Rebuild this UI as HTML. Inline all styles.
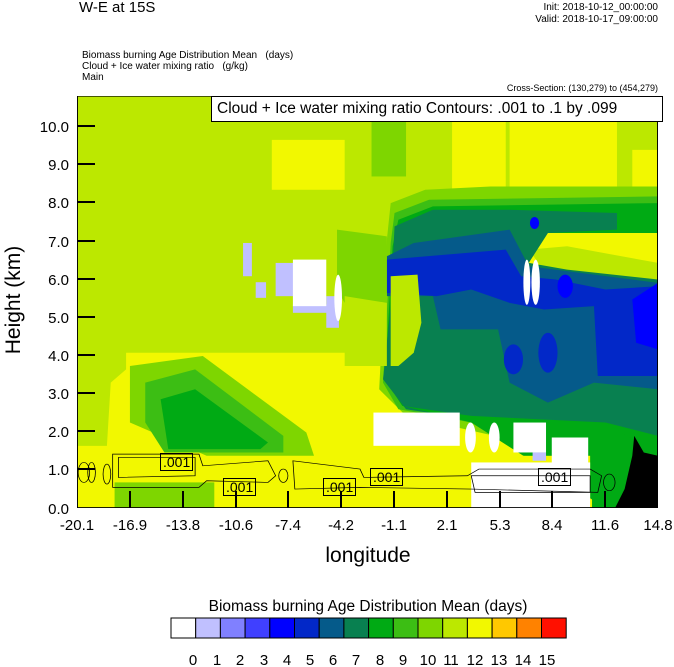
<!DOCTYPE html>
<html><head><style>
body{margin:0;width:674px;height:667px;background:#fff;position:relative;font-family:"Liberation Sans",sans-serif;overflow:hidden}
.t{position:absolute;white-space:nowrap;color:#000}
</style></head><body>
<div class="t" style="left:79px;top:-1px;font-size:15px">W-E at 15S</div>
<div class="t" style="right:16px;top:2px;font-size:10px;text-align:right;line-height:12px">Init: 2018-10-12_00:00:00<br>Valid: 2018-10-17_09:00:00</div>
<div class="t" style="left:82px;top:50px;font-size:10px;line-height:11px">Biomass burning Age Distribution Mean &nbsp; (days)<br>Cloud + Ice water mixing ratio &nbsp; (g/kg)<br>Main</div>
<div class="t" style="right:16px;top:83px;font-size:9px">Cross-Section: (130,279) to (454,279)</div>

<svg style="position:absolute;left:77px;top:96px" width="581" height="412" viewBox="22 18 1515 1239" preserveAspectRatio="none">
<rect x="0" y="0" width="1600" height="1300" fill="#bce800"/>
<!-- yellow top -->
<rect x="530" y="150" width="190" height="150" fill="#f2f800"/>
<rect x="1000" y="90" width="140" height="210" fill="#f2f800"/>
<rect x="1150" y="90" width="280" height="210" fill="#f2f800"/>
<rect x="1470" y="180" width="67" height="150" fill="#f2f800"/>
<rect x="790" y="90" width="90" height="170" fill="#7ed600"/>
<!-- yellow bottom -->
<polygon points="150,790 800,790 1050,960 1400,1257 22,1257 22,1070 100,1070 110,880 150,840" fill="#f2f800"/>
<polygon points="160,830 350,800 620,1030 640,1100 360,1100 160,1000" fill="#7ed600"/>
<polygon points="200,880 330,840 560,1040 560,1090 250,1090 200,1000" fill="#3cbe14"/>
<polygon points="240,930 330,900 520,1060 500,1080 260,1080" fill="#00aa14"/>
<rect x="120" y="1180" width="260" height="77" fill="#7ed600"/>
<!-- dark region layers -->
<polygon points="840,340 930,300 1100,290 1537,290 1537,1257 1400,1257 1380,1110 880,980 810,900 830,450" fill="#7ed600"/>
<polygon points="850,370 940,330 1537,320 1537,1257 1420,1257 1390,1120 1250,1100 1050,1000 860,960 820,880 840,460" fill="#3cbe14"/>
<polygon points="860,390 950,350 1537,340 1537,1257 1430,1257 1400,1140 1230,1080 1050,990 870,950 825,870 845,470" fill="#00aa14"/>
<rect x="1200" y="430" width="337" height="130" fill="#f2f800"/>
<polygon points="1200,480 1300,470 1537,520 1537,570 1380,580 1250,560" fill="#bce800"/>
<polygon points="850,410 950,360 1150,360 1430,370 1430,420 1250,430 1200,520 1300,540 1537,570 1537,1040 1400,1000 1300,1040 1050,990 880,960 820,870 840,650" fill="#088050"/>
<polygon points="830,500 900,460 1150,420 1200,530 1537,580 1537,900 1370,880 1250,940 1150,880 1120,720 970,720 950,620 830,620" fill="#055a8a"/>
<polygon points="830,510 1140,480 1180,560 1270,570 1400,600 1537,590 1537,860 1380,860 1370,650 1240,660 1150,640 1050,600 960,620 830,610" fill="#0228c8"/>
<ellipse cx="1160" cy="810" rx="25" ry="45" fill="#0228c8"/>
<ellipse cx="1250" cy="790" rx="25" ry="60" fill="#0228c8"/>
<polygon points="1470,630 1537,580 1537,780 1480,760" fill="#0000ff"/>
<ellipse cx="1295" cy="590" rx="20" ry="35" fill="#0000ff"/>
<ellipse cx="1215" cy="400" rx="12" ry="18" fill="#0000ff"/>
<polygon points="840,560 910,555 920,700 900,790 860,830 840,830" fill="#bce800"/>
<polygon points="700,420 830,440 830,640 720,640 700,600" fill="#7ed600"/>
<polygon points="720,620 830,640 830,830 720,830" fill="#bce800"/>
<!-- green tongue below dark -->
<polygon points="870,950 1050,1000 1400,1257 1537,1257 1537,1100 1400,1000 1050,980" fill="#00aa14"/>
<rect x="1050" y="1100" width="310" height="157" fill="#f2f800"/>
<!-- whites / lavender -->
<rect x="455" y="460" width="23" height="100" fill="#c0c0ff"/>
<rect x="488" y="578" width="27" height="47" fill="#c0c0ff"/>
<rect x="540" y="520" width="50" height="100" fill="#c0c0ff"/>
<rect x="585" y="645" width="115" height="25" fill="#c0c0ff"/>
<rect x="672" y="620" width="33" height="95" fill="#c0c0ff"/>
<rect x="585" y="510" width="87" height="140" fill="#fff"/>
<ellipse cx="703" cy="625" rx="10" ry="70" fill="#fff"/>
<ellipse cx="1195" cy="578" rx="9" ry="68" fill="#fff"/>
<ellipse cx="1218" cy="578" rx="11" ry="68" fill="#fff"/>
<rect x="795" y="970" width="225" height="100" fill="#fff"/>
<ellipse cx="1048" cy="1045" rx="14" ry="45" fill="#fff"/>
<ellipse cx="1110" cy="1045" rx="14" ry="45" fill="#fff"/>
<rect x="1160" y="1000" width="85" height="90" fill="#fff"/>
<rect x="1260" y="1045" width="95" height="212" fill="#fff"/>
<rect x="1050" y="1120" width="310" height="137" fill="#fff"/>
<rect x="1210" y="1090" width="35" height="25" fill="#c0c0ff"/>
<rect x="1365" y="1140" width="40" height="117" fill="#00aa14"/>
<polygon points="1475,1040 1500,1090 1537,1100 1537,1257 1425,1257 1450,1200 1470,1100" fill="#000"/>
<!-- contours -->
<g fill="none" stroke="#000" stroke-width="2">
<path d="M115,1095 L340,1095 L350,1130 L520,1115 L540,1160 L520,1180 L360,1175 L340,1195 L115,1195 Z"/>
<path d="M130,1105 L330,1105 L330,1160 L130,1165 Z"/>
<path d="M585,1115 L760,1140 L770,1165 L1040,1160 L1070,1140 L1360,1140 L1390,1160 L1380,1210 L1050,1200 L760,1195 L590,1200 Z"/>
<path d="M1050,1160 L1360,1160 L1360,1210 L1060,1210 Z"/>
<ellipse cx="40" cy="1150" rx="15" ry="30"/><ellipse cx="60" cy="1150" rx="10" ry="30"/><ellipse cx="100" cy="1155" rx="10" ry="30"/>
<ellipse cx="560" cy="1160" rx="12" ry="20"/><ellipse cx="1410" cy="1180" rx="15" ry="25"/>
</g>
<line x1="22" y1="0" x2="22" y2="1257" stroke="#000" stroke-width="5"/>
<line x1="1537" y1="0" x2="1537" y2="1257" stroke="#000" stroke-width="5"/>
<line x1="0" y1="18" x2="1600" y2="18" stroke="#000" stroke-width="4"/>
<line x1="0" y1="1257" x2="1600" y2="1257" stroke="#000" stroke-width="5"/>
</svg>

<!-- contour labels -->
<div class="t" style="left:160px;top:453px;font-size:14px;border:1px solid #000;padding:0 2px;line-height:16px">.001</div>
<div class="t" style="left:223px;top:478px;font-size:14px;border:1px solid #000;padding:0 2px;line-height:16px">.001</div>
<div class="t" style="left:323px;top:478px;font-size:14px;border:1px solid #000;padding:0 2px;line-height:16px">.001</div>
<div class="t" style="left:370px;top:468px;font-size:14px;border:1px solid #000;padding:0 2px;line-height:16px">.001</div>
<div class="t" style="left:538px;top:468px;font-size:14px;border:1px solid #000;padding:0 2px;line-height:16px">.001</div>

<!-- legend box -->
<div class="t" style="left:211px;top:96px;width:445px;height:24px;background:#fff;border:1px solid #000;font-size:15.5px;line-height:24px;padding-left:5px">Cloud + Ice water mixing ratio Contours: .001 to .1 by .099</div>

<!-- ticks -->
<svg style="position:absolute;left:0;top:0" width="674" height="667">
<g stroke="#000" stroke-width="2">
<line x1="77" y1="126" x2="95" y2="126"/><line x1="77" y1="164" x2="95" y2="164"/><line x1="77" y1="202" x2="95" y2="202"/><line x1="77" y1="241" x2="95" y2="241"/><line x1="77" y1="279" x2="95" y2="279"/><line x1="77" y1="317" x2="95" y2="317"/><line x1="77" y1="355" x2="95" y2="355"/><line x1="77" y1="393" x2="95" y2="393"/><line x1="77" y1="431" x2="95" y2="431"/><line x1="77" y1="469" x2="95" y2="469"/>
<line x1="130" y1="508" x2="130" y2="491"/><line x1="183" y1="508" x2="183" y2="491"/><line x1="236" y1="508" x2="236" y2="491"/><line x1="288" y1="508" x2="288" y2="491"/><line x1="341" y1="508" x2="341" y2="491"/><line x1="394" y1="508" x2="394" y2="491"/><line x1="447" y1="508" x2="447" y2="491"/><line x1="500" y1="508" x2="500" y2="491"/><line x1="552" y1="508" x2="552" y2="491"/><line x1="605" y1="508" x2="605" y2="491"/>
</g>
<g font-family="Liberation Sans" font-size="15" text-anchor="end">
<text x="69" y="132">10.0</text><text x="69" y="170">9.0</text><text x="69" y="208">8.0</text><text x="69" y="247">7.0</text><text x="69" y="285">6.0</text><text x="69" y="323">5.0</text><text x="69" y="361">4.0</text><text x="69" y="399">3.0</text><text x="69" y="437">2.0</text><text x="69" y="475">1.0</text><text x="69" y="514">0.0</text>
</g>
<g font-family="Liberation Sans" font-size="15" text-anchor="middle">
<text x="77" y="530">-20.1</text><text x="130" y="530">-16.9</text><text x="183" y="530">-13.8</text><text x="236" y="530">-10.6</text><text x="288" y="530">-7.4</text><text x="341" y="530">-4.2</text><text x="394" y="530">-1.1</text><text x="447" y="530">2.1</text><text x="500" y="530">5.3</text><text x="552" y="530">8.4</text><text x="605" y="530">11.6</text><text x="658" y="530">14.8</text>
</g>
<text x="368" y="562" font-family="Liberation Sans" font-size="21" text-anchor="middle">longitude</text>
<text transform="translate(20,300) rotate(-90)" font-family="Liberation Sans" font-size="21" text-anchor="middle">Height (km)</text>
<text x="368" y="611" font-family="Liberation Sans" font-size="15.5" text-anchor="middle">Biomass burning Age Distribution Mean  (days)</text>
<g stroke="#000" stroke-width="1">
<rect x="171" y="618" width="24.7" height="20" fill="#fff"/>
<rect x="195.7" y="618" width="24.7" height="20" fill="#c0c0ff"/>
<rect x="220.4" y="618" width="24.7" height="20" fill="#8080ff"/>
<rect x="245.1" y="618" width="24.7" height="20" fill="#4040ff"/>
<rect x="269.8" y="618" width="24.7" height="20" fill="#0000ff"/>
<rect x="294.5" y="618" width="24.7" height="20" fill="#0228c8"/>
<rect x="319.2" y="618" width="24.7" height="20" fill="#055a8a"/>
<rect x="343.9" y="618" width="24.7" height="20" fill="#088050"/>
<rect x="368.6" y="618" width="24.7" height="20" fill="#00aa14"/>
<rect x="393.3" y="618" width="24.7" height="20" fill="#3cbe14"/>
<rect x="418" y="618" width="24.7" height="20" fill="#7ed600"/>
<rect x="442.7" y="618" width="24.7" height="20" fill="#bce800"/>
<rect x="467.4" y="618" width="24.7" height="20" fill="#f2f800"/>
<rect x="492.1" y="618" width="24.7" height="20" fill="#ffc800"/>
<rect x="516.8" y="618" width="24.7" height="20" fill="#ff8200"/>
<rect x="541.5" y="618" width="24.7" height="20" fill="#ff1000"/>
</g>
<g font-family="Liberation Sans" font-size="15" text-anchor="middle">
<text x="193" y="665">0</text><text x="217" y="665">1</text><text x="240" y="665">2</text><text x="264" y="665">3</text><text x="287" y="665">4</text><text x="310" y="665">5</text><text x="333" y="665">6</text><text x="356" y="665">7</text><text x="380" y="665">8</text><text x="403" y="665">9</text><text x="428" y="665">10</text><text x="451" y="665">11</text><text x="475" y="665">12</text><text x="499" y="665">13</text><text x="523" y="665">14</text><text x="547" y="665">15</text>
</g>
</svg>
</body></html>
